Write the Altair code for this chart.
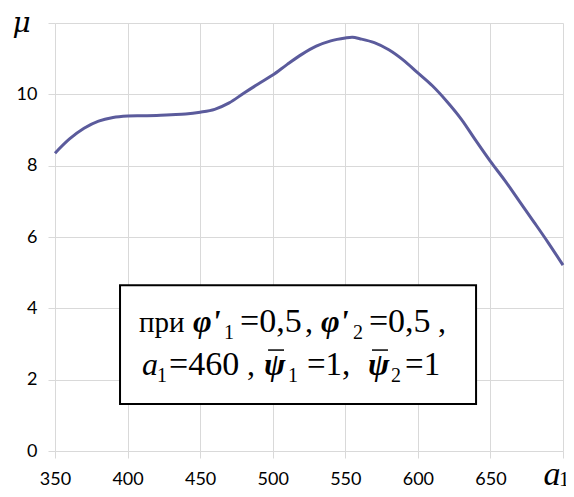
import altair as alt
import pandas as pd

# ---- data ----
a1 = [350, 360, 370, 380, 390, 400, 410, 420, 430, 440, 450, 460, 470, 480, 490,
      500, 510, 520, 530, 540, 550, 555, 560, 570, 580, 590, 600, 610, 620, 630,
      640, 650, 660, 670, 680, 690, 700]
mu = [8.35, 8.75, 9.05, 9.25, 9.35, 9.39, 9.40, 9.41, 9.43, 9.45, 9.50, 9.58, 9.76,
      10.03, 10.29, 10.54, 10.84, 11.12, 11.35, 11.50, 11.58, 11.60, 11.56, 11.45,
      11.25, 10.96, 10.60, 10.24, 9.80, 9.30, 8.70, 8.12, 7.58, 7.00, 6.42, 5.83, 5.21]

x_ticks = [350, 400, 450, 500, 550, 600, 650, 700]
y_ticks = [0, 2, 4, 6, 8, 10, 12]

# annotation box (data units)
box_x = [394.8]
box_x2 = [640.1]
box_y = [1.32]
box_y2 = [4.65]

# annotation text pieces (text, x, y, size)
reg_txt = ["при", "1", "=0,5", ",", "2", "=0,5", ",",
           "1", "=460", ",", "1", "=1,", "2", "=1"]
reg_x = [407.9, 466.4, 477.5, 522.3, 555.3, 566.3, 613.9,
         420.3, 428.6, 482.3, 510.5, 523.6, 581.5, 591.2]
reg_y = [3.336, 3.14, 3.336, 3.336, 3.14, 3.336, 3.336,
         1.934, 2.131, 2.131, 1.934, 2.131, 1.934, 2.131]
reg_size = [29, 20, 34, 32, 20, 34, 32,
            20, 34, 32, 20, 33, 20, 33]

greek_txt = ["φ'", "φ'", "ψ", "ψ"]
greek_x = [445.1, 533.3, 494.0, 565.7]
greek_y = [3.336, 3.336, 2.131, 2.131]

ital_txt = ["a"]
ital_x = [409.9]
ital_y = [2.131]

bar_x = [496.8, 568.4]
bar_x2 = [507.8, 579.4]
bar_y = [2.83, 2.83]

line_df = pd.DataFrame({"a1": a1, "mu": mu})
box_df = pd.DataFrame({"x": box_x, "x2": box_x2, "y": box_y, "y2": box_y2})
reg_df = pd.DataFrame({"t": reg_txt, "x": reg_x, "y": reg_y, "s": reg_size})
greek_df = pd.DataFrame({"t": greek_txt, "x": greek_x, "y": greek_y})
ital_df = pd.DataFrame({"t": ital_txt, "x": ital_x, "y": ital_y})
bar_df = pd.DataFrame({"x": bar_x, "x2": bar_x2, "y": bar_y})

xs = alt.Scale(domain=[350, 700], nice=False, zero=False)
ys = alt.Scale(domain=[0, 12], nice=False)

line = alt.Chart(line_df).mark_line(
    color="#5b5b9c", strokeWidth=3, interpolate="catmull-rom"
).encode(
    x=alt.X("a1:Q", scale=xs, axis=alt.Axis(
        values=x_ticks, title="a", labelExpr="datum.value == 700 ? '' : datum.label",
        labelFlush=False, labelOverlap=False,
        titleFont="Liberation Serif", titleFontStyle="italic", titleFontWeight="normal",
        titleFontSize=34, titleX=488, titleY=33, titleAlign="left",
        titleBaseline="alphabetic", labelPadding=12)),
    y=alt.Y("mu:Q", scale=ys, axis=alt.Axis(
        values=y_ticks, title="μ", labelExpr="datum.value == 12 ? '' : datum.label",
        labelFlush=False, labelOverlap=False,
        titleFont="DejaVu Serif", titleFontStyle="italic", titleFontWeight="normal",
        titleFontSize=28, titleAngle=0, titleX=-43, titleY=8, titleAlign="left",
        titleBaseline="alphabetic", labelPadding=11)),
)

box = alt.Chart(box_df).mark_rect(fill="white", stroke="black", strokeWidth=2).encode(
    x=alt.X("x:Q", scale=xs), x2="x2:Q", y=alt.Y("y:Q", scale=ys), y2="y2:Q")

reg = alt.Chart(reg_df).mark_text(
    font="Liberation Serif", align="left", baseline="alphabetic", color="black"
).encode(x=alt.X("x:Q", scale=xs), y=alt.Y("y:Q", scale=ys), text="t:N",
         size=alt.Size("s:Q", scale=None))

greek = alt.Chart(greek_df).mark_text(
    font="Liberation Serif", fontStyle="italic", fontWeight="bold", fontSize=32,
    align="left", baseline="alphabetic", color="black"
).encode(x=alt.X("x:Q", scale=xs), y=alt.Y("y:Q", scale=ys), text="t:N")

ital = alt.Chart(ital_df).mark_text(
    font="Liberation Serif", fontStyle="italic", fontSize=32,
    align="left", baseline="alphabetic", color="black"
).encode(x=alt.X("x:Q", scale=xs), y=alt.Y("y:Q", scale=ys), text="t:N")

bars = alt.Chart(bar_df).mark_rule(color="black", strokeWidth=1.5).encode(
    x=alt.X("x:Q", scale=xs), x2="x2:Q", y=alt.Y("y:Q", scale=ys))

sub1 = alt.Chart(pd.DataFrame({"t": ["1"]})).mark_text(
    font="Liberation Serif", fontSize=21, align="left", baseline="alphabetic",
    color="black"
).encode(text="t:N", x=alt.value(504), y=alt.value(463))

chart = alt.layer(line, box, reg, greek, ital, bars, sub1).properties(
    width=508, height=428,
    autosize=alt.AutoSizeParams(type="none"),
    padding={"left": 47, "top": 15, "right": 3, "bottom": 36},
).configure_view(stroke="transparent").configure_axis(
    grid=True, gridColor="#d9d9d9", gridWidth=1, domain=False,
    tickColor="#d9d9d9", tickSize=7, tickWidth=1,
    labelFont="Lato", labelFontSize=18, labelColor="black",
)

chart.save("out.html", embed_options={"renderer": "svg", "actions": False})
